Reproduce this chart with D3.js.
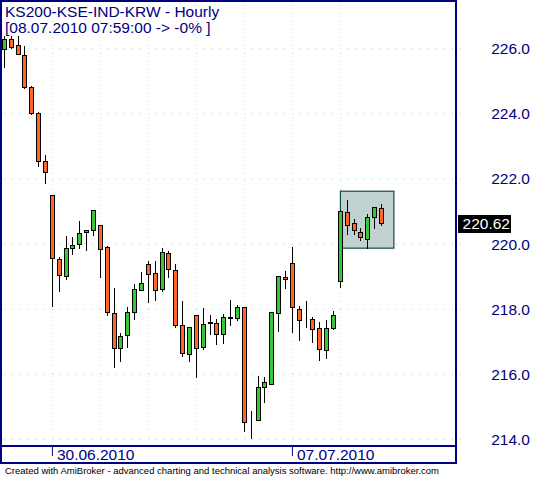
<!DOCTYPE html>
<meta charset="utf-8">
<style>
body { margin: 0; background: #fff; }
svg { display: block; font-family: "Liberation Sans", Arial, sans-serif; }
.grid line { stroke: #93dcdc; stroke-dasharray: 1,7; }
.grid path { display: none; }
.axis path { display: none; }
.axis text { fill: #000080; font-size: 15.5px; }
.xaxis line { stroke: #000080; }
.wick { stroke: #000; stroke-width: 1; }
.body { stroke: #000; stroke-width: 1; }
</style>
<svg width="533" height="477"></svg>
<script src="https://d3js.org/d3.v7.min.js"></script>
<script>

// hourly bars, 7 per session
var opens  = [225.97,226.29,226.09,225.79,224.80,224.00,222.55,
              221.49,219.53,219.01,219.87,219.98,220.35,220.41,
              220.56,219.89,217.86,216.78,217.18,217.89,218.57,
              219.36,219.09,218.60,219.70,219.18,217.49,216.60,
              217.80,216.81,217.59,217.55,217.21,217.73,217.71,
              218.04,214.54,214.57,215.60,215.70,217.86,218.96,
              219.39,217.98,217.64,217.67,217.40,216.72,217.40,
              218.84,220.96,220.62,220.35,220.13,220.81,221.08];
var highs  = [226.38,226.38,226.38,226.07,224.84,224.03,222.72,
              221.49,219.59,220.23,220.19,220.69,220.41,221.02,
              220.56,219.93,218.64,217.24,218.05,218.76,219.13,
              219.46,219.46,219.86,219.76,219.37,218.24,217.43,
              217.80,218.02,217.81,217.68,217.83,218.27,218.10,
              218.06,214.86,215.93,215.90,217.89,219.00,219.15,
              219.90,218.08,218.24,217.74,217.58,217.64,217.92,
              221.02,221.33,220.75,220.47,220.90,221.12,221.21];
var lows   = [225.43,226.02,225.82,224.77,223.97,222.39,221.87,
              218.09,218.55,218.92,219.69,219.87,219.81,220.27,
              218.98,217.81,216.22,216.40,216.81,217.67,218.57,
              218.22,218.26,218.55,218.96,217.45,216.56,216.40,
              215.91,216.75,217.23,216.92,216.96,217.51,217.65,
              214.24,214.03,214.57,215.14,215.70,217.32,218.65,
              217.29,217.05,217.45,216.99,216.41,216.48,217.37,
              218.68,220.29,220.29,220.12,219.86,220.47,220.56];
var closes = [226.29,226.05,225.82,224.82,224.00,222.53,222.21,
              219.57,219.04,219.86,219.95,220.32,220.41,221.02,
              219.82,217.89,216.78,217.16,217.89,218.60,218.78,
              219.06,218.57,219.73,219.21,217.51,216.63,217.43,
              216.78,217.52,217.55,217.23,217.74,217.70,218.04,
              214.51,214.55,215.59,215.74,217.89,219.00,218.90,
              218.04,217.64,217.64,217.37,216.75,217.40,217.80,
              220.99,220.56,220.41,220.19,220.81,221.12,220.62];

var sessionStarts = [7, 14, 21, 28, 35, 42, 49];
var dateTickBars = [7, 42];
var dateTickLabels = ["30.06.2010", "07.07.2010"];
var priceTicks = [214, 216, 218, 220, 222, 224, 226];
var boxBars = [49, 56.8];
var boxPrices = [219.86, 221.61];

var svg = d3.select("svg");
var plotRight = 456, plotBottom = 446, stripBottom = 463;
var navy = "#000080";

var x = d3.scaleLinear().domain([0, 56]).range([4.4, 388.4]);
var y = d3.scaleLinear().domain([214, 226]).range([438.9, 48.3]);

var bars = closes.map(function(c, i) {
  return {i: i, o: opens[i], h: highs[i], l: lows[i], c: c};
});

// grid
svg.append("g")
    .attr("class", "grid")
    .attr("transform", "translate(" + (plotRight + 5) + ",0)")
    .call(d3.axisRight(y).tickValues(priceTicks).tickSize(-(plotRight + 5)).tickFormat(""));

svg.append("g")
    .attr("class", "grid")
    .attr("transform", "translate(0," + plotBottom + ")")
    .call(d3.axisBottom(x).tickValues(sessionStarts).tickSize(-plotBottom).tickFormat(""));

// selection box on last session
svg.append("rect")
    .attr("x", x(boxBars[0]))
    .attr("y", y(boxPrices[1]))
    .attr("width", x(boxBars[1]) - x(boxBars[0]))
    .attr("height", y(boxPrices[0]) - y(boxPrices[1]))
    .attr("fill", "#c1d1d1")
    .attr("stroke", "#164848")
    .attr("stroke-width", 1.2);

// candles
var cx = function(d) { return Math.floor(x(d.i)) + 0.5; };
var g = svg.append("g").attr("shape-rendering", "crispEdges");

g.selectAll(".wick")
  .data(bars)
  .enter().append("line")
    .attr("class", "wick")
    .attr("x1", cx).attr("x2", cx)
    .attr("y1", function(d) { return Math.round(y(d.h)); })
    .attr("y2", function(d) { return Math.round(y(d.l)) + 1; });

g.selectAll(".body")
  .data(bars)
  .enter().append("rect")
    .attr("class", "body")
    .attr("x", function(d) { return cx(d) - 2; })
    .attr("width", 4)
    .attr("y", function(d) { return Math.round(y(Math.max(d.o, d.c))) + 0.5; })
    .attr("height", function(d) {
      return Math.round(y(Math.min(d.o, d.c))) - Math.round(y(Math.max(d.o, d.c)));
    })
    .attr("fill", function(d) { return d.c > d.o ? "#36c936" : "#ff6628"; });

// price axis
var yAxis = svg.append("g")
    .attr("class", "axis")
    .attr("transform", "translate(530,0)")
    .call(d3.axisRight(y).tickValues(priceTicks).tickSize(0).tickPadding(0).tickFormat(d3.format(".1f")));
yAxis.selectAll("text").attr("text-anchor", "end").attr("x", 0).attr("dy", "0.35em");

// date axis
var xAxis = svg.append("g")
    .attr("class", "axis xaxis")
    .attr("transform", "translate(0," + plotBottom + ")")
    .call(d3.axisBottom(x).tickValues(dateTickBars).tickSize(10)
      .tickFormat(function(d, i) { return dateTickLabels[i]; }));
xAxis.selectAll("line").attr("transform", "translate(-0.5,0)");
xAxis.selectAll("text").attr("text-anchor", "start").attr("x", 4).attr("y", 3).attr("dy", "0.71em");

// frame
svg.append("path")
    .attr("d", "M1,0V" + stripBottom + " M0,1H" + plotRight +
               " M" + plotRight + ",0V" + stripBottom +
               " M0," + plotBottom + "H" + plotRight +
               " M0," + stripBottom + "H" + (plotRight + 1))
    .attr("stroke", navy)
    .attr("stroke-width", 2)
    .attr("fill", "none");

// last price marker
var last = closes[closes.length - 1];
svg.append("rect")
    .attr("x", 458).attr("y", Math.round(y(last)) - 8)
    .attr("width", 53).attr("height", 18)
    .attr("fill", "#000");
svg.append("text")
    .attr("x", 510).attr("y", y(last))
    .attr("dy", "0.38em")
    .attr("text-anchor", "end")
    .attr("fill", "#fff")
    .style("font-size", "15.5px")
    .text(d3.format(".2f")(last));

// title
svg.append("text")
    .attr("x", 5).attr("y", 17)
    .attr("fill", navy).style("font-size", "15.5px")
    .text("KS200-KSE-IND-KRW - Hourly");
svg.append("text")
    .attr("x", 5).attr("y", 32.5)
    .attr("fill", navy).style("font-size", "15.5px")
    .text("[08.07.2010 07:59:00 -> -0% ]");

svg.append("text")
    .attr("x", 5).attr("y", 474)
    .attr("fill", "#000").style("font-size", "9.5px")
    .text("Created with AmiBroker - advanced charting and technical analysis software. http://www.amibroker.com");

</script>
